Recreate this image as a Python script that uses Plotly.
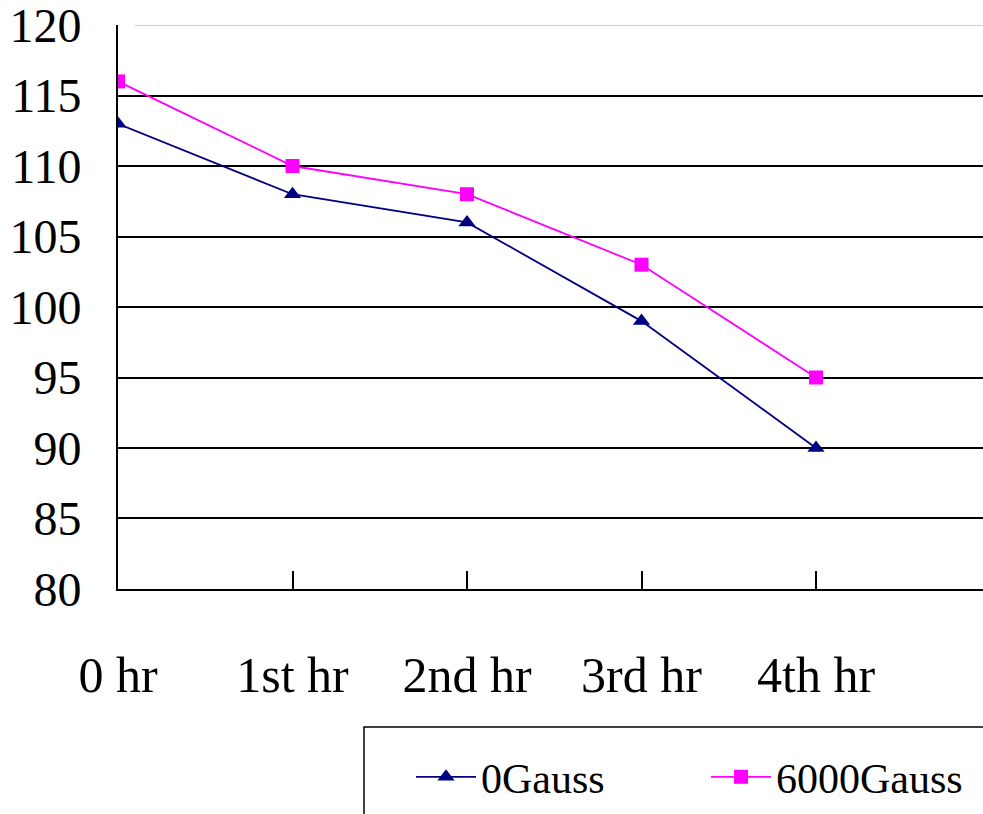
import plotly.graph_objects as go

# Time points and measured values for each field strength
categories = ["0 hr", "1st hr", "2nd hr", "3rd hr", "4th hr"]
gauss_0 = [113, 108, 106, 99, 90]
gauss_6000 = [116, 110, 108, 103, 95]
y_ticks = [80, 85, 90, 95, 100, 105, 110, 115, 120]

FONT = "Liberation Serif, Times New Roman, serif"
W, H = 983, 814
ML, MT, MB = 118, 25, 225
plot_w = W - ML
plot_h = H - MT - MB


def px_x(px):
    return (px - ML) / plot_w


def px_y(py):
    return (H - MB - py) / plot_h


xs = list(range(len(categories)))

fig = go.Figure()
fig.add_trace(go.Scatter(
    x=xs, y=gauss_0, name="0Gauss", mode="lines+markers",
    line=dict(color="#000080", width=1.8),
    marker=dict(symbol="triangle-up", size=15, color="#000080"),
    legend="legend",
))
fig.add_trace(go.Scatter(
    x=xs, y=gauss_6000, name="6000Gauss", mode="lines+markers",
    line=dict(color="#FF00FF", width=1.8),
    marker=dict(symbol="square", size=14, color="#FF00FF"),
    legend="legend2",
))

# light top gridline at 120
fig.add_shape(type="line", xref="paper", yref="y",
              x0=px_x(135), x1=1.0, y0=120, y1=120,
              line=dict(color="#BBBBBB", width=1.5), layer="below")

# legend frame running past the page edges
fig.add_shape(type="rect", xref="paper", yref="paper",
              x0=px_x(364), x1=px_x(1000), y0=px_y(727), y1=px_y(840),
              line=dict(color="black", width=1.5), fillcolor="white", layer="below")

legend_common = dict(
    orientation="h", xanchor="left", yanchor="middle",
    font=dict(family=FONT, size=42, color="black"),
    bgcolor="rgba(0,0,0,0)", borderwidth=0, itemwidth=60,
)

fig.update_layout(
    width=W, height=H,
    margin=dict(l=ML, r=0, t=MT, b=MB, pad=0),
    paper_bgcolor="white", plot_bgcolor="white",
    font=dict(family=FONT, color="black", size=46),
    showlegend=True,
    legend=dict(x=px_x(411), y=px_y(777), **legend_common),
    legend2=dict(x=px_x(706), y=px_y(777), **legend_common),
    xaxis=dict(
        range=[0, (W - ML) / 174.5], tickmode="array",
        tickvals=xs, ticktext=categories,
        showgrid=False, zeroline=False,
        showline=True, linecolor="black", linewidth=2,
        ticks="inside", ticklen=18, tickwidth=2, tickcolor="black",
        ticklabelstandoff=41,
        tickfont=dict(family=FONT, size=50, color="black"),
    ),
    yaxis=dict(
        range=[79.999, 120.001], tickmode="array", tickvals=y_ticks,
        showgrid=True, gridcolor="black", gridwidth=1.5,
        zeroline=False,
        showline=True, linecolor="black", linewidth=2,
        ticks="inside", ticklen=17, tickwidth=2, tickcolor="black",
        ticklabelstandoff=25, ticklabeloverflow="allow",
        tickfont=dict(family=FONT, size=48, color="black"),
    ),
)

fig.write_html("out.html")
